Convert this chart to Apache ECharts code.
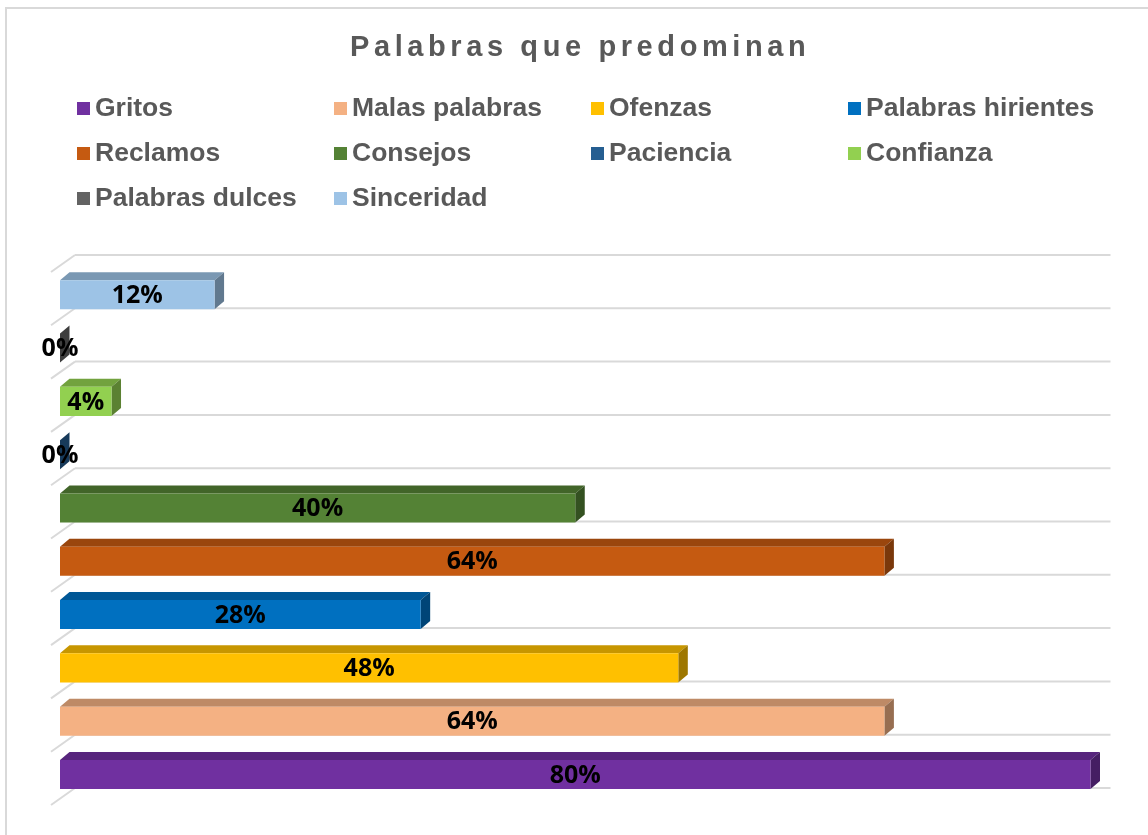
<!DOCTYPE html>
<html><head><meta charset="utf-8">
<script src="https://cdn.jsdelivr.net/npm/echarts@6/dist/echarts.min.js"></script>
<style>html,body{margin:0;padding:0;background:#fff}#c{width:1148px;height:835px}</style>
</head><body><div id="c"></div>
<script>
// ---- data ----
var categories = ['Gritos', 'Malas palabras', 'Ofenzas', 'Palabras hirientes', 'Reclamos', 'Consejos', 'Paciencia', 'Confianza', 'Palabras dulces', 'Sinceridad'];
var values = [80, 64, 48, 28, 64, 40, 0, 4, 0, 12];
var colors = ['#7030A0', '#F4B183', '#FFC000', '#0070C0', '#C55A11', '#548235', '#255E91', '#92D050', '#636363', '#9DC3E6'];
var titleText = 'Palabras que predominan';
var axisMax = 80;

// letter spacing for the title font (canvas supports ctx.letterSpacing)
(function () {
  var proto = CanvasRenderingContext2D.prototype;
  var desc = Object.getOwnPropertyDescriptor(proto, 'font');
  if (!desc || !desc.set) return;
  Object.defineProperty(proto, 'font', {
    configurable: true,
    get: function () { return desc.get.call(this); },
    set: function (v) {
      desc.set.call(this, v);
      if ('letterSpacing' in this) {
        this.letterSpacing = /29\.01px/.test(String(v)) ? '4.6px' : '0px';
      }
    }
  });
})();

function shade(hex, f) {
  var n = parseInt(hex.slice(1), 16);
  var r = Math.round(((n >> 16) & 255) * f), g = Math.round(((n >> 8) & 255) * f), b = Math.round((n & 255) * f);
  return 'rgb(' + r + ',' + g + ',' + b + ')';
}

var chart = echarts.init(document.getElementById('c'), null, { renderer: 'canvas' });

function gridRender(params, api) {
  var band = api.size([0, 1])[1];
  var k = api.value(2);
  var base = api.coord([0, 0]);
  var right = api.coord([axisMax, 0])[0];
  var y = base[1] + band / 2 - k * band;
  var xb = base[0] + 15;
  return {
    type: 'group', children: [
      { type: 'line', shape: { x1: xb, y1: y, x2: right + 20, y2: y }, style: { stroke: '#d9d9d9', lineWidth: 2 } },
      { type: 'line', shape: { x1: base[0] - 9, y1: y + 17, x2: xb, y2: y }, style: { stroke: '#d9d9d9', lineWidth: 2 } }
    ]
  };
}

function makeBarRender(color) {
  return function (params, api) {
    var v = api.value(0), ci = api.value(1);
    var p0 = api.coord([0, ci]), p1 = api.coord([v, ci]);
    var band = api.size([0, 1])[1];
    var yb = p0[1] + band / 2 + 1;
    var h = band * 0.545;
    var yt = yb - h;
    var dx = 9.5, dy = 8;
    var xl = p0[0], xr = p1[0];
    return {
      type: 'group', children: [
        { type: 'polygon', shape: { points: [[xl, yt], [xr, yt], [xr + dx, yt - dy], [xl + dx, yt - dy]] }, style: { fill: shade(color, 0.78) } },
        { type: 'polygon', shape: { points: [[xr, yt], [xr + dx, yt - dy], [xr + dx, yb - dy], [xr, yb]] }, style: { fill: shade(color, 0.62) } },
        { type: 'rect', shape: { x: xl, y: yt, width: xr - xl, height: h }, style: { fill: color } },
        { type: 'text', x: (xl + xr) / 2, y: (yt + yb) / 2 + 1, style: { text: v + '%', fill: '#000', font: 'bold 25px "Open Sans"', align: 'center', verticalAlign: 'middle' } }
      ]
    };
  };
}

var series = [{
  type: 'custom', name: '_grid', silent: true, z: 1,
  renderItem: gridRender,
  encode: { x: 0, y: 1 },
  data: [0, 1, 2, 3, 4, 5, 6, 7, 8, 9, 10].map(function (k) { return [0, 0, k]; })
}];
categories.forEach(function (name, i) {
  series.push({
    type: 'custom', name: name, z: 2 + i,
    itemStyle: { color: colors[i] },
    renderItem: makeBarRender(colors[i]),
    encode: { x: 0, y: 1 },
    data: [[values[i], i]]
  });
});

chart.setOption({
  animation: false,
  backgroundColor: '#fff',
  title: {
    text: titleText, left: 350, top: 31, padding: 0,
    textStyle: { fontSize: 29.01, fontWeight: 'bold', color: '#595959', fontFamily: '"Liberation Sans", Arial, sans-serif' }
  },
  legend: {
    data: categories, left: 77, top: 86, width: 1040, padding: 0,
    itemWidth: 13, itemHeight: 13, itemGap: 0, icon: 'rect', selectedMode: false,
    textStyle: { fontSize: 26.5, fontWeight: 'bold', color: '#595959', fontFamily: '"Liberation Sans", Arial, sans-serif', width: 239, lineHeight: 45 }
  },
  grid: { left: 60, right: 57.5, top: 255, bottom: 47, containLabel: false },
  xAxis: { type: 'value', min: 0, max: axisMax, show: false },
  yAxis: { type: 'category', data: categories, show: false },
  graphic: [{ type: 'rect', silent: true, z: -1, shape: { x: 6, y: 8, width: 1300, height: 1000 }, style: { fill: 'none', stroke: '#d9d9d9', lineWidth: 2 } }],
  series: series
});
</script></body></html>
